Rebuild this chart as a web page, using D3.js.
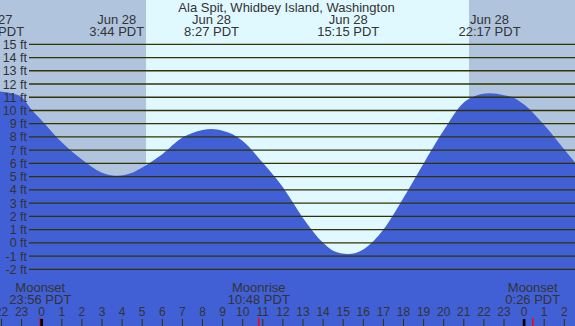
<!DOCTYPE html>
<html>
<head>
<meta charset="utf-8">
<script src="https://cdn.jsdelivr.net/npm/d3@7"></script>
<style>
  body { margin: 0; }
  svg { display: block; font-family: "Liberation Sans", Arial, sans-serif; }
</style>
</head>
<body>
<svg id="tide"></svg>
<script>
const width = 575,
    height = 326;

// station + tide readings (hours from Jun 28 00:00 PDT, feet)
const title = "Ala Spit, Whidbey Island, Washington";
const hours = [-3, -2.42, -2, -1.5, -1, -0.5, 0, 1, 2, 3, 3.73, 4.5, 5, 6, 7, 7.5, 8, 8.45, 9, 9.5, 10, 11, 12, 13, 14, 14.5, 15.25, 16, 17, 18, 19, 20, 21, 21.5, 22.28, 23, 23.5, 24, 25, 26, 27];
const heights = [11.35, 11.45, 11.42, 11.3, 11.0, 10.05, 9.25, 7.6, 6.3, 5.3, 5.07, 5.3, 5.7, 6.7, 7.95, 8.3, 8.53, 8.6, 8.47, 8.2, 7.7, 6.05, 4.2, 1.88, 0.0, -0.6, -0.85, -0.5, 1.0, 3.4, 6.0, 8.5, 10.6, 11.05, 11.3, 11.15, 10.95, 10.45, 8.9, 7.05, 5.2];

// high / low tide events
const eventTimes = [-2.42, 3.73, 8.45, 15.25, 22.28];
const eventDates = ["Jun 27", "Jun 28", "Jun 28", "Jun 28", "Jun 28"];
const eventLabels = ["21:35 PDT", "3:44 PDT", "8:27 PDT", "15:15 PDT", "22:17 PDT"];

// sun and moon
const sunrise = 5.19, sunset = 21.26;
const moonTimes = [-0.07, 10.8, 24.43];
const moonNames = ["Moonset", "Moonrise", "Moonset"];
const moonLabels = ["23:56 PDT", "10:48 PDT", "0:26 PDT"];

// axis ticks
const feetTicks = [-2, -1, 0, 1, 2, 3, 4, 5, 6, 7, 8, 9, 10, 11, 12, 13, 14, 15];
const hourTicks = [-2, -1, 0, 1, 2, 3, 4, 5, 6, 7, 8, 9, 10, 11, 12, 13, 14, 15, 16, 17, 18, 19, 20, 21, 22, 23, 24, 25, 26];

const x = d3.scaleLinear().domain([0, 24]).range([41.7, 524.1]);
const y = d3.scaleLinear().domain([-2, 15]).range([269.3, 44.3]);

const svg = d3.select("#tide")
    .attr("width", width)
    .attr("height", height);

// night / day background
svg.append("rect")
    .attr("x", 0).attr("y", 0)
    .attr("width", width).attr("height", height)
    .attr("fill", "#b0c4de");
svg.append("rect")
    .attr("x", x(sunrise)).attr("y", 0)
    .attr("width", x(sunset) - x(sunrise)).attr("height", height)
    .attr("fill", "#e0f8ff");

// tide area
const tide = hours.map((h, i) => [h, heights[i]]);
const area = d3.area()
    .x(d => x(d[0]))
    .y0(height)
    .y1(d => y(d[1]))
    .curve(d3.curveMonotoneX);

svg.append("path")
    .datum(tide)
    .attr("d", area)
    .attr("fill", "#4160d6");

// feet grid lines + labels
svg.selectAll(".grid")
    .data(feetTicks)
    .join("line")
    .attr("class", "grid")
    .attr("x1", 29).attr("x2", width)
    .attr("y1", d => y(d)).attr("y2", d => y(d))
    .attr("stroke", "#333300")
    .attr("stroke-width", 1.3);

svg.selectAll(".ftlabel")
    .data(feetTicks)
    .join("text")
    .attr("class", "ftlabel")
    .attr("x", 27)
    .attr("y", d => y(d) + 4.5)
    .attr("text-anchor", "end")
    .attr("font-size", "12.5px")
    .attr("fill", "#333")
    .text(d => d + " ft");

// title
svg.append("text")
    .attr("x", 286.5).attr("y", 12)
    .attr("text-anchor", "middle")
    .attr("font-size", "13px")
    .attr("fill", "#333")
    .text(title);

// tide event labels
const ev = svg.selectAll(".ev")
    .data(eventTimes)
    .join("g")
    .attr("class", "ev")
    .attr("transform", d => `translate(${x(d)},0)`);
ev.append("text")
    .attr("y", 24)
    .attr("text-anchor", "middle")
    .attr("font-size", "13px")
    .attr("fill", "#333")
    .text((d, i) => eventDates[i]);
ev.append("text")
    .attr("y", 36)
    .attr("text-anchor", "middle")
    .attr("font-size", "13px")
    .attr("fill", "#333")
    .text((d, i) => eventLabels[i]);

// moon labels
const moon = svg.selectAll(".moon")
    .data(moonTimes)
    .join("g")
    .attr("class", "moon")
    .attr("transform", d => `translate(${x(d)},0)`);
moon.append("text")
    .attr("y", 291.5)
    .attr("text-anchor", "middle")
    .attr("font-size", "13px")
    .attr("fill", "#333")
    .text((d, i) => moonNames[i]);
moon.append("text")
    .attr("y", 303.5)
    .attr("text-anchor", "middle")
    .attr("font-size", "13px")
    .attr("fill", "#333")
    .text((d, i) => moonLabels[i]);
moon.append("line")
    .attr("y1", 318).attr("y2", height)
    .attr("stroke", "#ff0000")
    .attr("stroke-width", 1.5);

// hour ticks
svg.selectAll(".hlabel")
    .data(hourTicks)
    .join("text")
    .attr("class", "hlabel")
    .attr("x", d => x(d))
    .attr("y", 316)
    .attr("text-anchor", "middle")
    .attr("font-size", "12px")
    .attr("fill", "#333")
    .text(d => ((d % 24) + 24) % 24);

svg.selectAll(".htick")
    .data(hourTicks)
    .join("line")
    .attr("class", "htick")
    .attr("x1", d => x(d)).attr("x2", d => x(d))
    .attr("y1", 319).attr("y2", height)
    .attr("stroke", d => d % 24 === 0 ? "#000" : "#333300")
    .attr("stroke-width", d => d % 24 === 0 ? 2.7 : 1);
</script>
</body>
</html>
